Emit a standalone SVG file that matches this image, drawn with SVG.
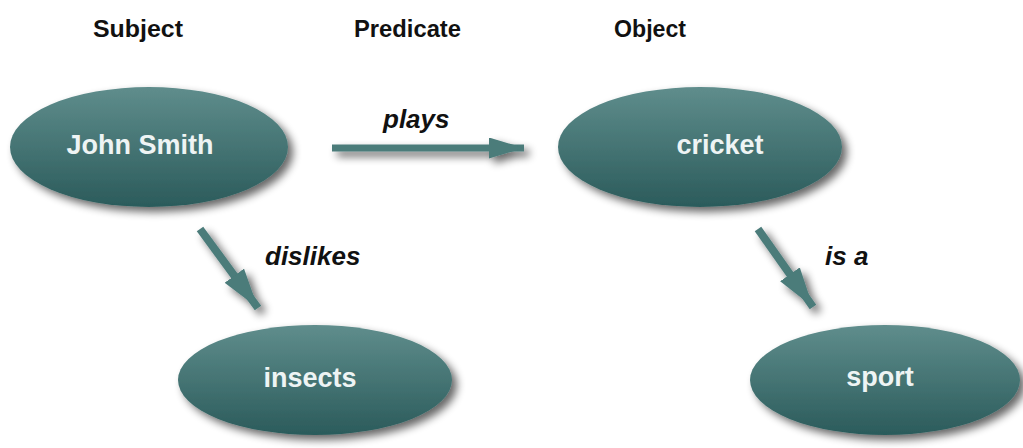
<svg xmlns="http://www.w3.org/2000/svg" width="1023" height="448" viewBox="0 0 1023 448">
<defs>
<linearGradient id="g" x1="0" y1="0" x2="0" y2="1">
<stop offset="0" stop-color="#5f8d8c"/>
<stop offset="1" stop-color="#2b5b5b"/>
</linearGradient>
<filter id="sh" x="-20%" y="-20%" width="150%" height="150%">
<feGaussianBlur in="SourceAlpha" stdDeviation="4"/>
<feOffset dx="5" dy="5" result="b"/>
<feComponentTransfer><feFuncA type="linear" slope="0.6"/></feComponentTransfer>
<feMerge><feMergeNode/><feMergeNode in="SourceGraphic"/></feMerge>
</filter>
<marker id="ah" viewBox="0 0 10 10" refX="10" refY="5" markerWidth="5" markerHeight="3" markerUnits="strokeWidth" orient="auto" preserveAspectRatio="none">
<path d="M0,0 L10,5 L0,10 Z" fill="#4b7b7a"/>
</marker>
</defs>
<style>
.hd{font-family:"Liberation Sans",Arial,sans-serif;font-weight:bold;font-size:24px;fill:#111}
.nt{font-family:"Liberation Sans",Arial,sans-serif;font-weight:bold;font-size:27px;fill:#eef4f4;text-anchor:middle}
.lb{font-family:"Liberation Sans",Arial,sans-serif;font-weight:bold;font-style:italic;font-size:26px;fill:#111}
.el{fill:url(#g);filter:url(#sh)}
.ar{stroke:#4b7b7a;stroke-width:7;fill:none;marker-end:url(#ah)}
.ad{stroke-width:8}
</style>
<rect width="1023" height="448" fill="#fff"/>
<text class="hd" x="93" y="37" textLength="90" lengthAdjust="spacingAndGlyphs">Subject</text>
<text class="hd" x="354" y="37" textLength="107" lengthAdjust="spacingAndGlyphs">Predicate</text>
<text class="hd" x="614" y="37" textLength="72" lengthAdjust="spacingAndGlyphs">Object</text>
<g id="john"><ellipse class="el" cx="149" cy="147" rx="139" ry="60"/><text class="nt" x="140" y="154">John Smith</text></g>
<g id="cricket"><ellipse class="el" cx="700" cy="147" rx="142" ry="60"/><text class="nt" x="720" y="154">cricket</text></g>
<g id="insects"><ellipse class="el" cx="315" cy="380" rx="137" ry="55"/><text class="nt" x="310" y="387">insects</text></g>
<g id="sport"><ellipse class="el" cx="885" cy="380" rx="135" ry="55"/><text class="nt" x="880" y="386">sport</text></g>
<g id="connectors" filter="url(#sh)">
<line class="ar" x1="332" y1="148" x2="524" y2="148"/>
<line class="ar ad" x1="200" y1="229" x2="258" y2="308"/>
<line class="ar ad" x1="758" y1="229" x2="813" y2="307"/>
</g>
<text class="lb" x="383" y="128">plays</text>
<text class="lb" x="265" y="265">dislikes</text>
<text class="lb" x="825" y="265">is a</text>
</svg>
